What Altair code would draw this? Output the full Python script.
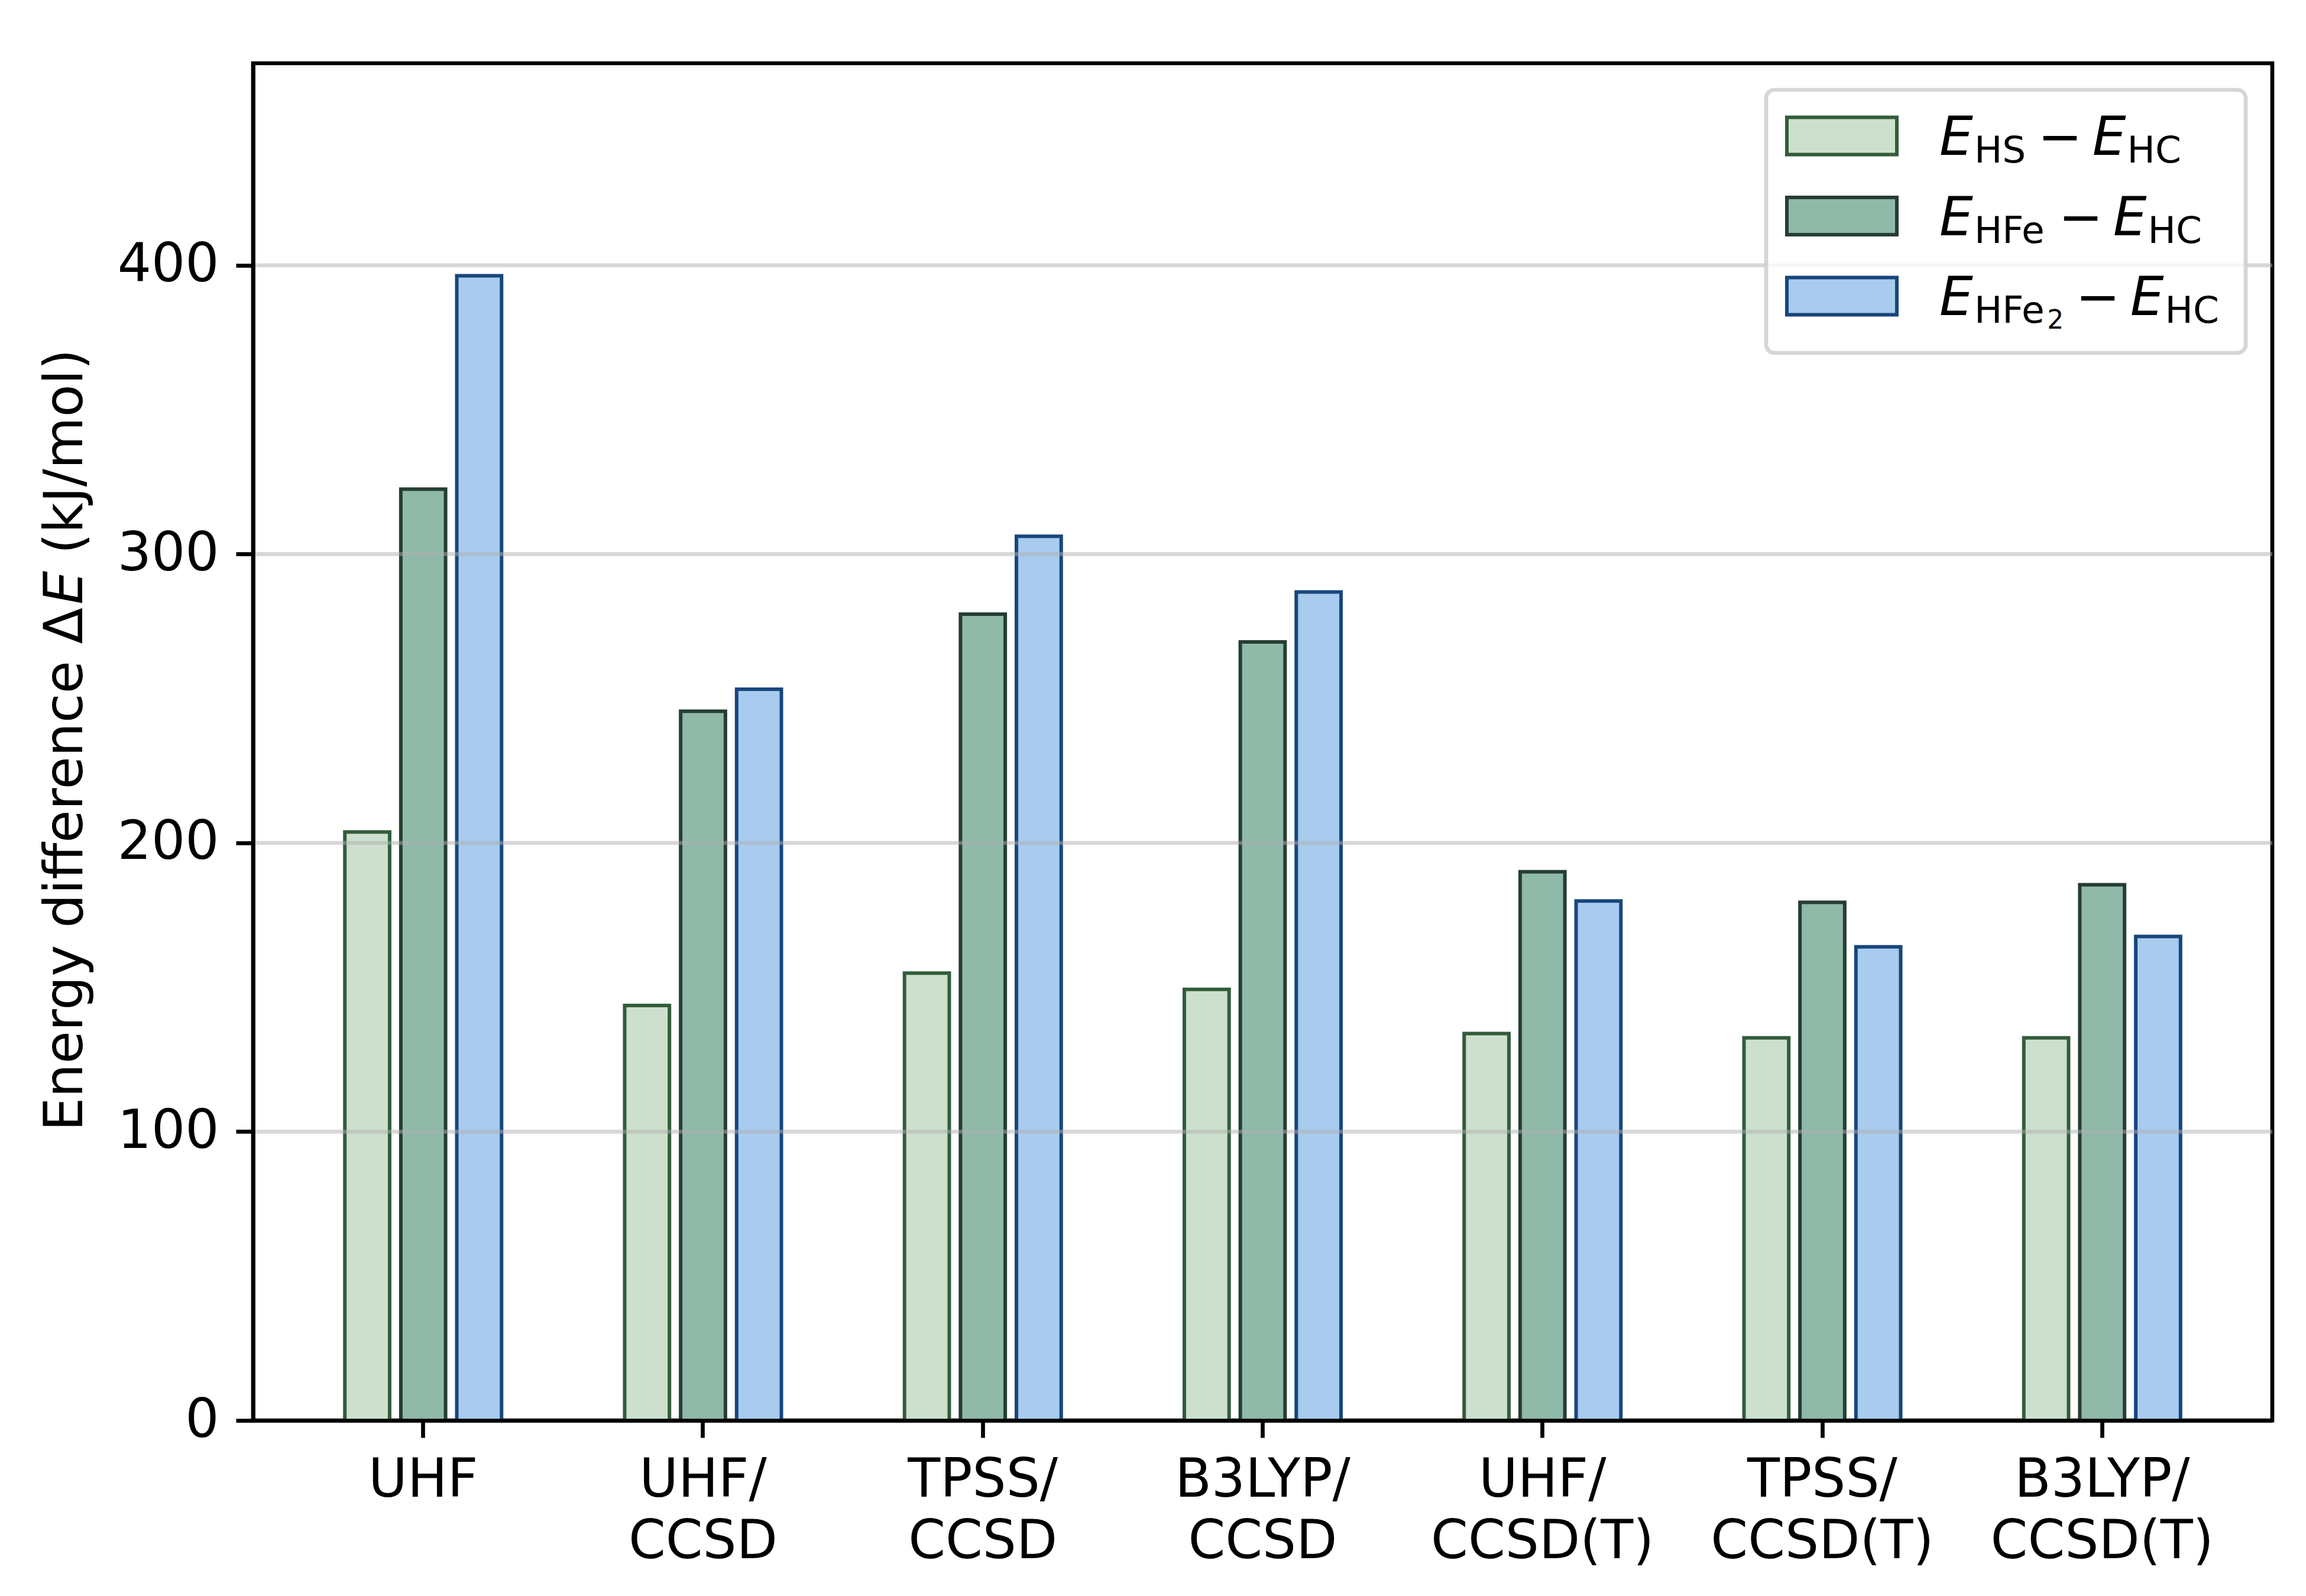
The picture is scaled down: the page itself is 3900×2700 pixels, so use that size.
import altair as alt
import pandas as pd

# ---------------- data ----------------
methods = ["UHF", "UHF/\nCCSD", "TPSS/\nCCSD", "B3LYP/\nCCSD",
           "UHF/\nCCSD(T)", "TPSS/\nCCSD(T)", "B3LYP/\nCCSD(T)"]
series = ["HS", "HFe", "HFe2"]
e_hs = [203.8, 143.7, 154.9, 149.3, 134.0, 132.5, 132.5]
e_hfe = [322.5, 245.6, 279.2, 269.6, 190.0, 179.4, 185.5]
e_hfe2 = [396.4, 253.2, 306.2, 286.9, 179.9, 164.0, 167.6]
y_ticks = [0, 100, 200, 300, 400]

fills = ["#cce0cd", "#8fb9a8", "#a8cbee"]
edges = ["#335c3b", "#263d33", "#18467c"]

rows = []
for s, vals in zip(series, [e_hs, e_hfe, e_hfe2]):
    for m, v in zip(methods, vals):
        rows.append({"method": m, "series": s, "value": v})
df = pd.DataFrame(rows)
grid_df = pd.DataFrame({"value": y_ticks[1:]})
one = pd.DataFrame({"k": [0]})

W, H = 3415, 2296
FS = 90
FONT = "DejaVu Sans"
LW = 6.7

# two empty slots around the three bars reproduce the group spacing
offset_domain = ["_l"] + series + ["_r"]

bars = alt.Chart(df).mark_bar(strokeWidth=6).encode(
    x=alt.X("method:N", sort=methods,
            scale=alt.Scale(paddingInner=0, paddingOuter=0.108),
            axis=alt.Axis(title=None, labelExpr="split(datum.label, '\\n')",
                          labelAngle=0, labelFontSize=FS, labelFont=FONT,
                          labelColor="black", labelLineHeight=104,
                          labelPadding=28, tickSize=29, tickWidth=LW,
                          tickColor="black", domainColor="black",
                          domainWidth=LW, labelOverlap=False, labelBound=False,
                          labelLimit=0, grid=False, zindex=1)),
    xOffset=alt.XOffset("series:N",
                        scale=alt.Scale(domain=offset_domain,
                                        paddingInner=0.2, paddingOuter=0.1)),
    y=alt.Y("value:Q", scale=alt.Scale(domain=[0, 470], nice=False),
            axis=alt.Axis(title=None, values=y_ticks, format="d",
                          labelFontSize=FS, labelFont=FONT, labelColor="black",
                          labelPadding=29, tickSize=29, tickWidth=LW,
                          tickColor="black", domainColor="black",
                          domainWidth=LW, grid=False, zindex=1)),
    color=alt.Color("series:N", scale=alt.Scale(domain=series, range=fills),
                    legend=None),
    stroke=alt.Stroke("series:N", scale=alt.Scale(domain=series, range=edges),
                      legend=None),
)

grid = alt.Chart(grid_df).mark_rule(color="#b0b0b0", opacity=0.5,
                                    strokeWidth=LW).encode(y="value:Q")


def txt(s, x, y, size, italic=False, angle=None, baseline="alphabetic"):
    kw = dict(text=s, fontSize=size, font=FONT, align="left",
              baseline=baseline, color="black")
    if italic:
        kw["fontStyle"] = "italic"
    if angle is not None:
        kw["angle"] = angle
    return alt.Chart(one).mark_text(**kw).encode(x=alt.value(x), y=alt.value(y))


layers = [bars, grid]

# ---------------- legend ----------------
box = alt.Chart(one).mark_rect(fill="white", fillOpacity=0.8, stroke="#cccccc",
                               strokeOpacity=0.8, strokeWidth=LW,
                               cornerRadius=14).encode(
    x=alt.value(2559), x2=alt.value(3370), y=alt.value(45), y2=alt.value(490))
layers.append(box)

# DejaVu Sans advance widths (em)
wid = {"H": 0.752, "S": 0.635, "F": 0.575, "e": 0.615, "C": 0.698, "2": 0.636}


def w(s, size):
    return sum(wid[c] for c in s) * size


SUB = 63
SUBSUB = 44
centers = [123, 258.5, 394]
subs = [("HS", None), ("HFe", None), ("HFe", "2")]
for i, (c, (sub, sub2)) in enumerate(zip(centers, subs)):
    sw = alt.Chart(one).mark_rect(fill=fills[i], stroke=edges[i],
                                  strokeWidth=6).encode(
        x=alt.value(2594), x2=alt.value(2780),
        y=alt.value(c - 31.5), y2=alt.value(c + 31.5))
    layers.append(sw)
    B = c + 32
    x0 = 2852
    layers.append(txt("E", x0, B, FS, italic=True))
    xs = x0 + 0.632 * FS + 2
    layers.append(txt(sub, xs, B + 13, SUB))
    xe = xs + w(sub, SUB)
    if sub2:
        layers.append(txt(sub2, xe + 1, B + 23, SUBSUB))
        xe = xe + 1 + w(sub2, SUBSUB)
    xm = xe + 20
    layers.append(txt("\u2212", xm, B, FS))
    xE = xm + 0.838 * FS + 17
    layers.append(txt("E", xE, B, FS, italic=True))
    layers.append(txt("HC", xE + 0.632 * FS + 2, B + 13, SUB))

# ---------------- y title ----------------
tx = -316
y_start = 1806.5
w1 = 9.896 * FS
layers.append(txt("Energy difference \u0394", tx, y_start, FS, angle=270,
                  baseline="middle"))
layers.append(txt("E", tx, y_start - w1, FS, italic=True, angle=270,
                  baseline="middle"))
layers.append(txt("(kJ/mol)", tx, y_start - w1 - 0.632 * FS - 0.318 * FS, FS,
                  angle=270, baseline="middle"))

chart = alt.layer(*layers).properties(
    width=W, height=H,
    autosize=alt.AutoSizeParams(type="none"),
    padding={"left": 420, "top": 99, "right": 40, "bottom": 280},
    background="white",
).configure(font=FONT).configure_view(stroke="black", strokeWidth=LW)

chart.save("out.html", embed_options={"renderer": "svg", "actions": False})
